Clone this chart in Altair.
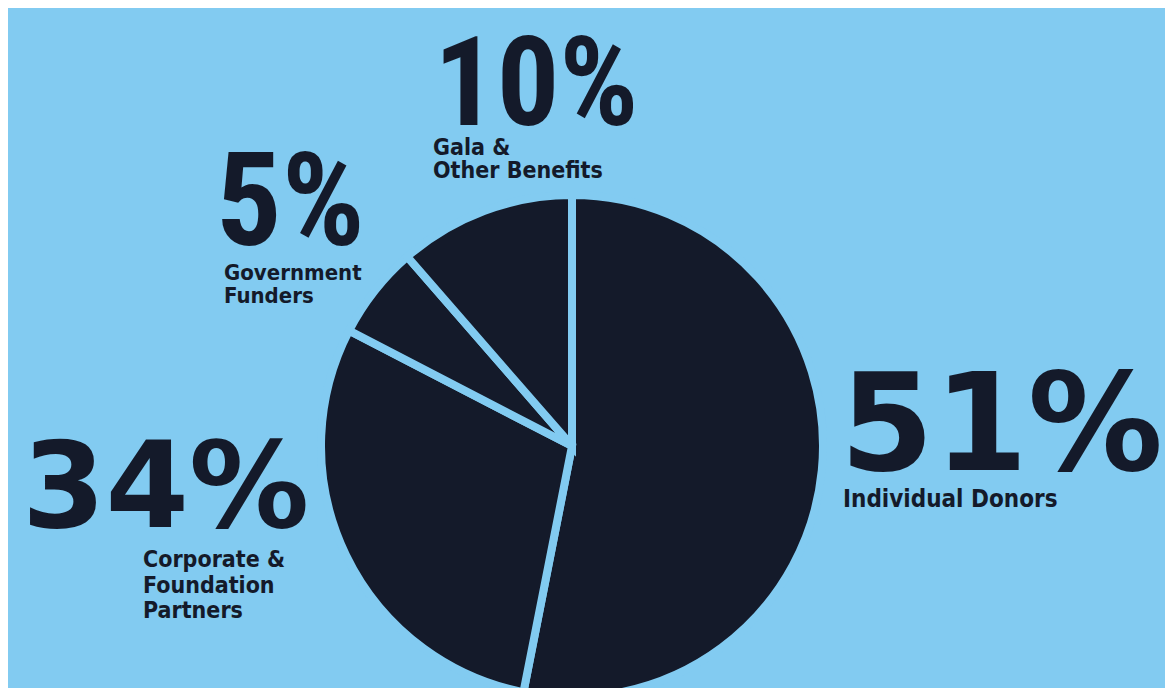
import altair as alt
import pandas as pd

# ---- data ----
categories = ["Individual Donors", "Corporate & Foundation Partners",
              "Government Funders", "Gala & Other Benefits"]
# printed percentages
pct_labels = ["51%", "34%", "5%", "10%"]
# slice sizes as drawn in the picture (share of the full circle, %)
drawn_share = [53.1, 29.5, 6.0, 11.4]
# label text split into lines
label_lines = ["Individual  Donors", "Corporate &\nFoundation\nPartners",
               "Government\nFunders", "Gala &\nOther Benefits"]

BG = "#82CBF1"
INK = "#141A2A"

COND = "Roboto Condensed, DejaVu Sans Condensed, sans-serif"
WIDE = "DejaVu Sans"
SMALL = "DejaVu Sans Condensed, Liberation Sans, sans-serif"

pie_df = pd.DataFrame({"category": categories, "share": drawn_share,
                       "idx": list(range(len(categories)))})

pie = alt.Chart(pie_df).mark_arc(
    outerRadius=251, stroke=BG, strokeWidth=8, color=INK
).encode(
    theta=alt.Theta("share:Q", stack=True),
    order=alt.Order("idx:Q", sort="ascending"),
    x=alt.value(564),
    y=alt.value(438),
)

# annotation layout (positions of text blocks, chart pixel coords)
big_style = {
    0: dict(x=832, y=462, font=WIDE, size=135),
    1: dict(x=14, y=519, font=WIDE, size=120),
    2: dict(x=208, y=237, font=COND, size=130),
    3: dict(x=426, y=117, font=COND, size=124),
}
small_style = {
    0: dict(x=835, y=499, size=24, lh=25),
    1: dict(x=135, y=559, size=23, lh=25.5),
    2: dict(x=216, y=272, size=22, lh=23),
    3: dict(x=425, y=147, size=23, lh=23),
}

layers = [pie]
for i in range(len(categories)):
    row = pd.DataFrame({"pct": [pct_labels[i]], "lab": [label_lines[i]]})
    b = big_style[i]
    layers.append(
        alt.Chart(row).mark_text(
            font=b["font"], fontSize=b["size"], fontWeight="bold",
            align="left", baseline="alphabetic", color=INK
        ).encode(text="pct:N", x=alt.value(b["x"]), y=alt.value(b["y"]))
    )
    s = small_style[i]
    layers.append(
        alt.Chart(row).mark_text(
            font=SMALL, fontSize=s["size"], fontWeight="bold",
            align="left", baseline="alphabetic", color=INK,
            lineBreak="\n", lineHeight=s["lh"]
        ).encode(text="lab:N", x=alt.value(s["x"]), y=alt.value(s["y"]))
    )

chart = alt.layer(*layers).properties(
    width=1157, height=680,
    autosize=alt.AutoSizeParams(type="none"),
    padding=0,
    background=BG,
).configure_view(stroke=None)

chart.save("out.html", embed_options={"renderer": "svg", "actions": False})
